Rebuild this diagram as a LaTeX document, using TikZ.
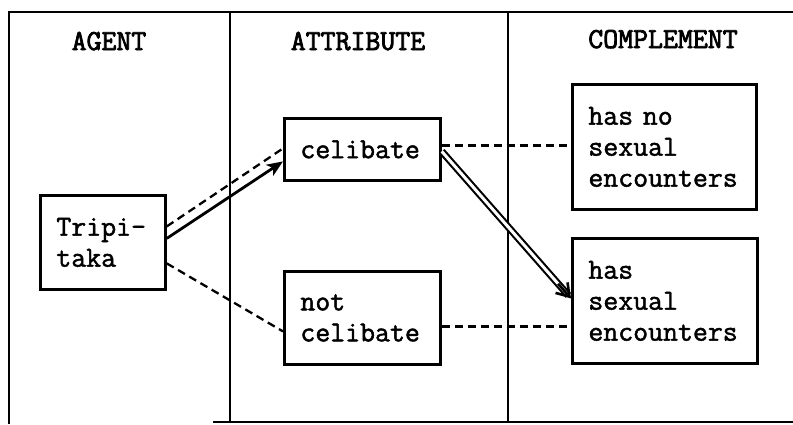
\documentclass[tikz,border=0pt]{standalone}
\usepackage{fontspec}
\newfontfamily\boxfont{Latin Modern Mono}[FakeBold=1.6]
\newfontfamily\headfont{Latin Modern Mono}[FakeBold=2.8]
\usetikzlibrary{arrows.meta,calc}
\begin{document}
\begin{tikzpicture}[x=1pt,y=-1pt,
  rule/.style={line width=2.4pt},
  cell/.style={draw, line width=2.8pt, anchor=north west, inner xsep=16pt,
    inner ysep=0pt, align=left,
    font=\boxfont\fontsize{29}{31}\selectfont},
  header/.style={anchor=base, font=\headfont\fontsize{29}{30}\selectfont},
  link/.style={line width=2.3pt, dash pattern=on 8pt off 5pt},
  assert/.style={line width=2.8pt, -{Stealth[length=16pt, width=13pt, inset=4pt]}},
  entail/.style={double, double distance=3pt, line width=2.1pt},
]
\useasboundingbox (0,0) rectangle (793,424);

% frame and column rules
\draw[rule] (9,424) -- (9,12) -- (793,12);
\draw[rule] (213,422) -- (793,422);
\draw[rule] (230,12) -- (230,422);
\draw[rule] (508,12) -- (508,422);

% column headings
\node[header] (hagent) at (109,50) {AGENT};
\node[header] (hattr) at (358,50) {ATTRIBUTE};
\node[header] (hcomp) at (663,48) {COMPLEMENT};

% boxes
\node[cell, text width=93pt, minimum height=94pt] (trip) at (39,194) {Tripi-\\taka\\[4pt]};
\node[cell, text width=124pt, minimum height=62pt] (cel) at (283,117) {celibate};
\node[cell, text width=124pt, minimum height=93pt] (ncel) at (283,270) {not\\celibate};
\node[cell, text width=152pt, minimum height=125pt] (hasno) at (571,83) {has no\\sexual\\encounters};
\node[cell, text width=153pt, minimum height=125pt] (has) at (571,237) {has\\sexual\\encounters};

% agent to attributes
\draw[link] ([yshift=16pt]trip.east) -- ([yshift=1pt]cel.west);
\draw[assert] ([yshift=4pt]trip.east) -- ([yshift=-12pt]cel.west);
\draw[link] ([yshift=-21pt]trip.east) -- ([yshift=-13.5pt]ncel.west);

% attributes to complements
\coordinate (c1) at ([yshift=4pt]cel.east);
\draw[link] (c1) -- (c1 -| hasno.west);
\coordinate (c2) at ([yshift=-8.5pt]ncel.east);
\draw[link] (c2) -- (c2 -| has.west);

% entailment
\coordinate (e1) at ([yshift=-2pt]cel.east);
\coordinate (e2) at ([yshift=2.5pt]has.west);
\draw[entail, shorten >=4pt] (e1) -- (e2);
\draw[line width=2.6pt, -{Straight Barb[length=12pt, width=16pt, line width=2.6pt]}]
  ($ (e1)!0.9!(e2) $) -- (e2);
\end{tikzpicture}
\end{document}
